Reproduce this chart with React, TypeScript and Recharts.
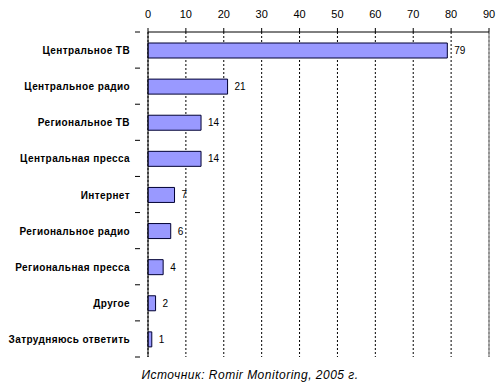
import React from 'react';
import {
  BarChart,
  Bar,
  XAxis,
  YAxis,
  CartesianGrid,
  ReferenceLine,
  LabelList,
} from 'recharts';

const categories = [
  'Центральное ТВ',
  'Центральное радио',
  'Региональное ТВ',
  'Центральная пресса',
  'Интернет',
  'Региональное радио',
  'Региональная пресса',
  'Другое',
  'Затрудняюсь ответить',
];
const values = [79, 21, 14, 14, 7, 6, 4, 2, 1];
const xTicks = [0, 10, 20, 30, 40, 50, 60, 70, 80, 90];
const sourceNote = 'Источник: Romir Monitoring, 2005 г.';

const data = categories.map((name, i) => ({ name, value: values[i] }));

const font = 'Liberation Sans, Arial, sans-serif';
const bandHalf = (357 - 32) / categories.length / 2;

// category label plus a small tick at the band boundary (like Excel)
const CategoryTick = (props: any) => {
  const { x, y, payload, index } = props;
  return (
    <g>
      <text
        x={x - 10}
        y={y}
        dy={4}
        textAnchor="end"
        fontSize={10}
        fontWeight="bold"
        fontFamily={font}
        fill="#000"
        letterSpacing={0.4}
      >
        {payload.value}
      </text>
      <line x1={x - 5} x2={x} y1={y + bandHalf} y2={y + bandHalf} stroke="#000" />
      {index === 0 && <line x1={x - 5} x2={x} y1={y - bandHalf} y2={y - bandHalf} stroke="#000" />}
    </g>
  );
};

const App = () => {
  return (
    <div style={{ position: 'absolute', left: 0, top: 0, width: 500, height: 387, background: '#fff' }}>
      <BarChart
        width={500}
        height={387}
        data={data}
        layout="vertical"
        margin={{ top: 0, right: 11, left: 0, bottom: 30 }}
        barSize={15}
      >
        <CartesianGrid horizontal={false} stroke="#000" strokeDasharray="2 2" />
        <XAxis
          type="number"
          orientation="top"
          domain={[0, 90]}
          ticks={xTicks}
          height={32}
          interval={0}
          axisLine={{ stroke: '#000' }}
          tickLine={{ stroke: '#000' }}
          tickSize={4}
          tickMargin={10}
          tick={{ fontSize: 11, fontFamily: font, fill: '#000' }}
        />
        <YAxis
          type="category"
          dataKey="name"
          width={148}
          axisLine={{ stroke: '#000' }}
          tickLine={false}
          interval={0}
          tick={<CategoryTick />}
        />
        <ReferenceLine x={90} stroke="#999" strokeWidth={1.5} />
        <Bar dataKey="value" fill="#9999FF" stroke="#000033" strokeWidth={1} isAnimationActive={false}>
          <LabelList
            dataKey="value"
            position="right"
            offset={7}
            fontSize={10}
            fontFamily={font}
            fill="#000"
          />
        </Bar>
      </BarChart>
      <div
        style={{
          position: 'absolute',
          top: 368,
          left: 0,
          width: 500,
          textAlign: 'center',
          fontFamily: font,
          fontStyle: 'italic',
          fontSize: 12,
          letterSpacing: 0.5,
          color: '#000',
        }}
      >
        {sourceNote}
      </div>
    </div>
  );
};

export default App;
